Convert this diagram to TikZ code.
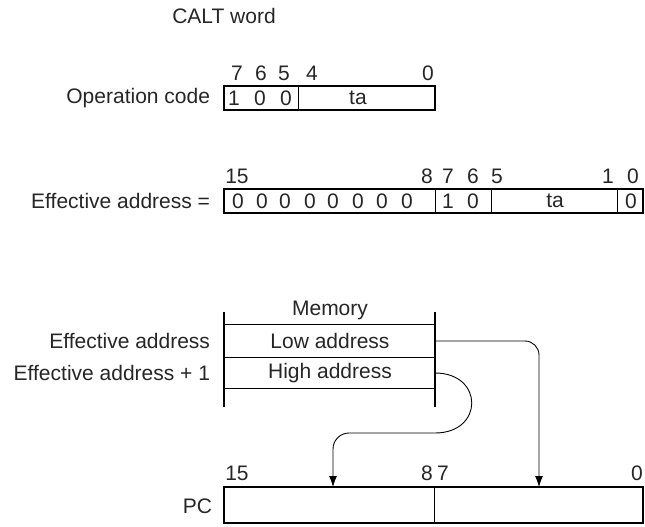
\documentclass[tikz,border=0pt]{standalone}
\usepackage{fontspec}
\setmainfont{Liberation Sans}
\usetikzlibrary{arrows.meta}
\begin{document}
\begin{tikzpicture}[x=1pt,y=-1pt,
  every node/.style={inner sep=0pt, outer sep=0pt, font=\fontsize{21}{24}\selectfont, text=black!85},
  thickbox/.style={line width=2pt},
  thinline/.style={line width=0.7pt},
  conn/.style={line width=0.9pt, -{Latex[length=11pt,width=8pt]}},
  lbl/.style={anchor=center}]
\useasboundingbox (0,0) rectangle (645,527);

% CALT word
\node[lbl] (calt) at (224,16) {CALT word};

% Operation code
\node[anchor=east] (opl) at (210,98) {Operation code};
\draw[thickbox] (224,86) rectangle (435,110);
\draw[thinline] (298,86) -- (298,110);
\node (ob7) at (237,73) {7};
\node (ob6) at (261,73) {6};
\node (ob5) at (284,73) {5};
\node (ob4) at (312,73) {4};
\node (ob0) at (428,73) {0};
\node (od1) at (234,98) {1};
\node (od2) at (260,98) {0};
\node (od3) at (286,98) {0};
\node (ota) at (358,98) {ta};

% Effective address
\node[anchor=east] (eal) at (210,201) {Effective address =};
\draw[thickbox] (224,189) rectangle (643,213);
\draw[thinline] (435,189) -- (435,213);
\draw[thinline] (491,189) -- (491,213);
\draw[thinline] (617,189) -- (617,213);
\node (eb15) at (237,176) {15};
\node (eb8) at (427,176) {8};
\node (eb7) at (448,176) {7};
\node (eb6) at (473,176) {6};
\node (eb5) at (497,176) {5};
\node (eb1) at (608,176) {1};
\node (eb0) at (633,176) {0};
\foreach \x [count=\i] in {238,262,285,310,333,358,382,407}
  \node (ez\i) at (\x,201) {0};
\node (e1) at (448,201) {1};
\node (e0) at (473,201) {0};
\node (eta) at (555,201) {ta};
\node (elast) at (631,201) {0};

% Memory
\node (mem) at (330,310) {Memory};
\draw[thickbox] (224,312) -- (224,407);
\draw[thickbox] (435,312) -- (435,407);
\draw[thinline] (224,324) -- (435,324);
\draw[thinline] (224,357) -- (435,357);
\draw[thinline] (224,388) -- (435,388);
\node (low) at (330,341) {Low address};
\node (high) at (330,373) {High address};
\node[anchor=east] (ea1) at (210,341) {Effective address};
\node[anchor=east] (ea2) at (210,373) {Effective address + 1};
\coordinate (lowR) at (435,341);
\coordinate (highR) at (435,373);

% PC
\node[anchor=east] (pcl) at (212,506) {PC};
\draw[thickbox] (224,487) rectangle (643,523);
\draw[thinline] (434,487) -- (434,523);
\node (pb15) at (237,473) {15};
\node (pb8) at (427,473) {8};
\node (pb7) at (443,473) {7};
\node (pb0) at (637,473) {0};
\coordinate (pcHi) at (333,487);
\coordinate (pcLo) at (539,487);

% connectors
\draw[conn, rounded corners=14pt] (lowR) -- (539,341) -- (pcLo);
\draw[conn] (highR) .. controls (484,373) and (484,433) .. (435,433)
  [rounded corners=16pt] -- (333,433) -- (pcHi);
\end{tikzpicture}
\end{document}
